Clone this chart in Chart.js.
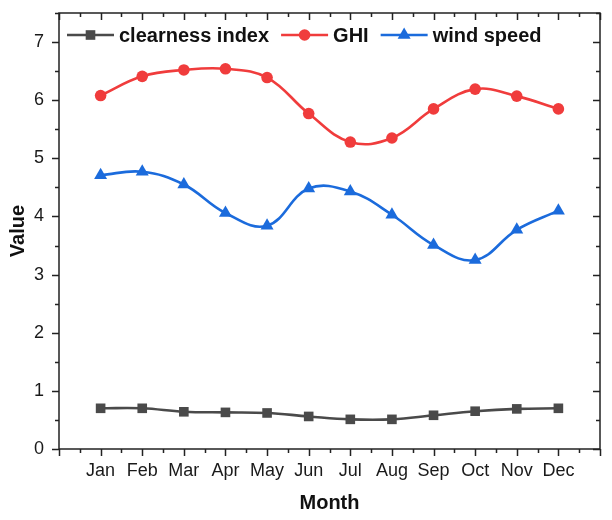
<!DOCTYPE html>
<html>
<head>
<meta charset="utf-8">
<script src="https://cdn.jsdelivr.net/npm/chart.js@4/dist/chart.umd.min.js"></script>
<style>
  html, body { margin: 0; padding: 0; background: #fff; }
  #wrap { width: 612px; height: 520px; }
</style>
</head>
<body>
<div id="wrap"><canvas id="chart" width="612" height="520"></canvas></div>
<script>
// values
const months = ["Jan", "Feb", "Mar", "Apr", "May", "Jun", "Jul", "Aug", "Sep", "Oct", "Nov", "Dec"];
const clearnessIndex = [0.70, 0.70, 0.64, 0.63, 0.62, 0.56, 0.51, 0.51, 0.58, 0.65, 0.69, 0.70];
const ghi = [6.08, 6.41, 6.52, 6.54, 6.39, 5.77, 5.28, 5.35, 5.85, 6.19, 6.07, 5.85];
const windSpeed = [4.71, 4.77, 4.55, 4.06, 3.84, 4.48, 4.43, 4.03, 3.51, 3.25, 3.77, 4.10];
const yTicks = [0, 1, 2, 3, 4, 5, 6, 7];

const FONT = "'Liberation Sans', Arial, sans-serif";
const AXIS_COLOR = "#222";

function toPoints(values) {
  return values.map((v, i) => ({ x: i + 1, y: v }));
}

// frame + major/minor ticks, like the original plot
const framePlugin = {
  id: "frame",
  afterDraw(chart) {
    const ctx = chart.ctx;
    const { left, right, top, bottom } = chart.chartArea;
    const xs = chart.scales.x;
    const ys = chart.scales.y;
    ctx.save();
    ctx.strokeStyle = AXIS_COLOR;
    ctx.lineWidth = 1.5;
    ctx.strokeRect(left, top, right - left, bottom - top);
    ctx.beginPath();
    for (let v = 0; v <= 13; v += 0.5) {
      const px = Math.round(xs.getPixelForValue(v)) + 0.5;
      const len = Number.isInteger(v) ? 7 : 4;
      ctx.moveTo(px, bottom);
      ctx.lineTo(px, bottom + len);
      ctx.moveTo(px, top);
      ctx.lineTo(px, top + len);
    }
    for (let v = 0; v <= 7.5; v += 0.5) {
      const py = Math.round(ys.getPixelForValue(v)) + 0.5;
      const len = Number.isInteger(v) ? 7 : 4;
      ctx.moveTo(left - len, py);
      ctx.lineTo(left, py);
      ctx.moveTo(right - len, py);
      ctx.lineTo(right, py);
    }
    ctx.stroke();
    ctx.restore();
  }
};

// legend drawn inside the plot: line + marker + bold label
const legendPlugin = {
  id: "inlineLegend",
  afterDraw(chart) {
    const ctx = chart.ctx;
    const { left, top } = chart.chartArea;
    let x = left + 8;
    const y = top + 22;
    ctx.save();
    ctx.font = "bold 20px " + FONT;
    ctx.textBaseline = "middle";
    chart.data.datasets.forEach((ds) => {
      ctx.strokeStyle = ds.borderColor;
      ctx.lineWidth = ds.borderWidth;
      ctx.beginPath();
      ctx.moveTo(x, y);
      ctx.lineTo(x + 47, y);
      ctx.stroke();
      ctx.fillStyle = ds.pointBackgroundColor;
      Chart.helpers.drawPoint(ctx, {
        pointStyle: ds.pointStyle,
        radius: ds.pointRadius,
        rotation: 0,
        borderWidth: 0
      }, x + 23.5, y);
      ctx.fillStyle = "#111";
      ctx.fillText(ds.label, x + 52, y + 1);
      x += 52 + ctx.measureText(ds.label).width + 12;
    });
    ctx.restore();
  }
};

function series(label, values, color, style, radius) {
  return {
    label: label,
    data: toPoints(values),
    borderColor: color,
    backgroundColor: color,
    pointBackgroundColor: color,
    pointBorderColor: color,
    pointBorderWidth: 0,
    pointStyle: style,
    pointRadius: radius,
    borderWidth: 2.6,
    tension: 0.4,
    fill: false
  };
}

new Chart(document.getElementById("chart").getContext("2d"), {
  type: "line",
  data: {
    datasets: [
      series("clearness index", clearnessIndex, "#4a4a4a", "rect", 6.8),
      series("GHI", ghi, "#f03c3c", "circle", 5.8),
      series("wind speed", windSpeed, "#1b6bdc", "triangle", 7.5)
    ]
  },
  options: {
    responsive: false,
    animation: false,
    layout: { padding: { top: 13, right: 12, left: 0, bottom: 0 } },
    plugins: { legend: { display: false }, tooltip: { enabled: false } },
    scales: {
      x: {
        type: "linear",
        min: 0,
        max: 13,
        grid: { display: false, drawTicks: false, tickLength: 0 },
        border: { display: false },
        afterBuildTicks(scale) {
          scale.ticks = months.map((m, i) => ({ value: i + 1 }));
        },
        afterFit(scale) {
          scale.height = 71;
          scale.paddingLeft = 0;
          scale.paddingRight = 0;
        },
        ticks: {
          padding: 11,
          color: "#1a1a1a",
          font: { family: FONT, size: 18 },
          maxRotation: 0,
          autoSkip: false,
          callback: (v) => months[v - 1]
        },
        title: {
          display: true,
          text: "Month",
          color: "#111",
          font: { family: FONT, size: 20, weight: "bold" },
          padding: { top: 0, bottom: 5 }
        }
      },
      y: {
        min: 0,
        max: 7.5,
        grid: { display: false, drawTicks: false, tickLength: 0 },
        border: { display: false },
        afterBuildTicks(scale) {
          scale.ticks = yTicks.map((v) => ({ value: v }));
        },
        afterFit(scale) {
          scale.width = 59;
          scale.paddingTop = 0;
          scale.paddingBottom = 0;
        },
        ticks: {
          padding: 15,
          color: "#1a1a1a",
          font: { family: FONT, size: 18 }
        },
        title: {
          display: true,
          text: "Value",
          color: "#111",
          font: { family: FONT, size: 20, weight: "bold" },
          padding: { top: 6, bottom: 0 }
        }
      }
    }
  },
  plugins: [framePlugin, legendPlugin]
});
</script>
</body>
</html>
